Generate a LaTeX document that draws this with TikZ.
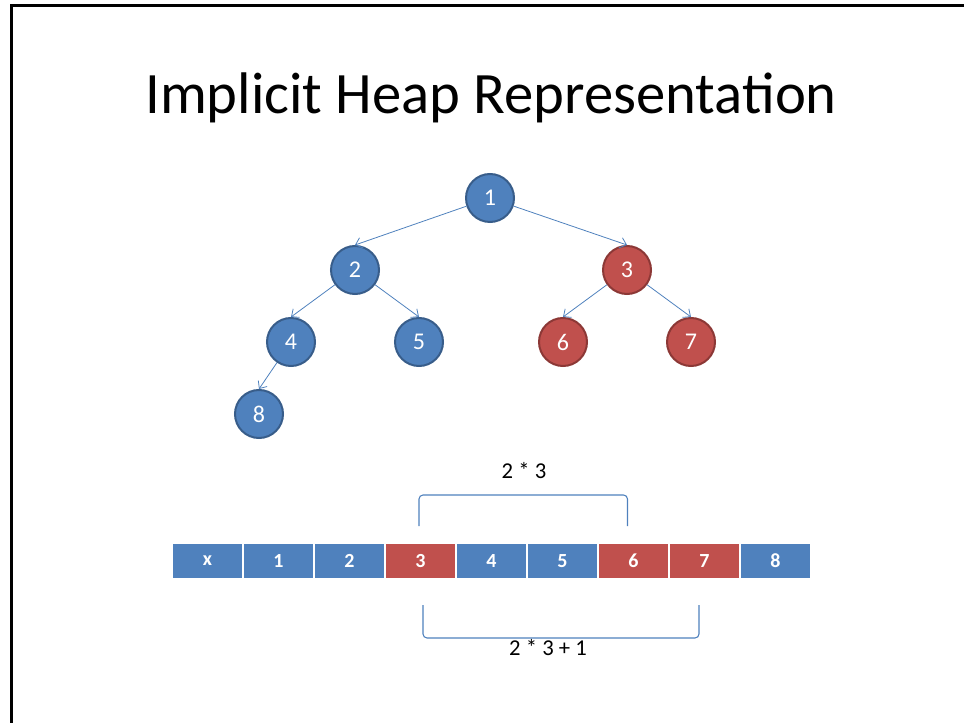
\documentclass[tikz,border=0pt]{standalone}
\usepackage{fontspec}
\setmainfont{Carlito}
\usetikzlibrary{positioning,arrows.meta}

\definecolor{heapblue}{HTML}{4F81BD}
\definecolor{heapblueline}{HTML}{385D8A}
\definecolor{heapred}{HTML}{C0504D}
\definecolor{heapredline}{HTML}{8C3836}

\tikzset{
  bluenode/.style={circle, fill=heapblue, draw=heapblueline, line width=1.5pt,
    minimum size=36pt, inner sep=0pt, text=white, font=\fontsize{18}{20}\selectfont},
  rednode/.style={bluenode, fill=heapred, draw=heapredline},
  bluecell/.style={rectangle, fill=heapblue, draw=white, line width=0.8pt,
    minimum width=53.25pt, minimum height=27pt, inner sep=0pt, outer sep=0pt,
    text=white, font=\fontsize{15}{17}\selectfont\bfseries},
  redcell/.style={bluecell, fill=heapred},
  bracket/.style={heapblue, line width=0.8pt, rounded corners=3pt}
}

\begin{document}
\begin{tikzpicture}[x=0.75pt, y=-0.75pt, >={Straight Barb[length=4.5pt,width=8pt]}]
  \useasboundingbox (0,0) rectangle (964,723);
  % Slide frame (only top and left edges show)
  \draw[line width=2pt] (11.3,723) -- (11.3,5.5) -- (964,5.5);

  % Title
  \node[anchor=base, font=\fontsize{44}{52}\selectfont] (title) at (491,114) {Implicit Heap Representation};

  % Tree
  \node[bluenode] (n1) at (490,198) {1};
  \node[bluenode] (n2) at (355,270) {2};
  \node[rednode]  (n3) at (627,270) {3};
  \node[bluenode] (n4) at (291,342) {4};
  \node[bluenode] (n5) at (419,342) {5};
  \node[rednode]  (n6) at (563,342) {6};
  \node[rednode]  (n7) at (691,342) {7};
  \node[bluenode] (n8) at (259,414) {8};

  \draw[->, heapblue, line width=0.6pt] (n1) -- (n2.north);
  \draw[->, heapblue, line width=0.6pt] (n1) -- (n3.north);
  \draw[->, heapblue, line width=0.6pt] (n2) -- (n4.north);
  \draw[->, heapblue, line width=0.6pt] (n2) -- (n5.north);
  \draw[->, heapblue, line width=0.6pt] (n3) -- (n6.north);
  \draw[->, heapblue, line width=0.6pt] (n3) -- (n7.north);
  \draw[->, heapblue, line width=0.6pt] (n4) -- (n8.north);

  % Array
  \node[bluecell] (c0) at (207.5,561) {x};
  \node[bluecell, right=0pt of c0] (c1) {1};
  \node[bluecell, right=0pt of c1] (c2) {2};
  \node[redcell,  right=0pt of c2] (c3) {3};
  \node[bluecell, right=0pt of c3] (c4) {4};
  \node[bluecell, right=0pt of c4] (c5) {5};
  \node[redcell,  right=0pt of c5] (c6) {6};
  \node[redcell,  right=0pt of c6] (c7) {7};
  \node[bluecell, right=0pt of c7] (c8) {8};

  % Bracket over 3 .. 6 : left child index
  \draw[bracket] (419,526) -- (419,495) -- (627.5,495) -- (627.5,526);
  \node[font=\fontsize{17}{19}\selectfont] (lefttxt) at (524,471) {2 * 3};

  % Bracket under 3 .. 7 : right child index
  \draw[bracket] (423,605) -- (423,638) -- (699,638) -- (699,605);
  \node[font=\fontsize{17}{19}\selectfont] (righttxt) at (548,648) {2 * 3 + 1};
\end{tikzpicture}
\end{document}
